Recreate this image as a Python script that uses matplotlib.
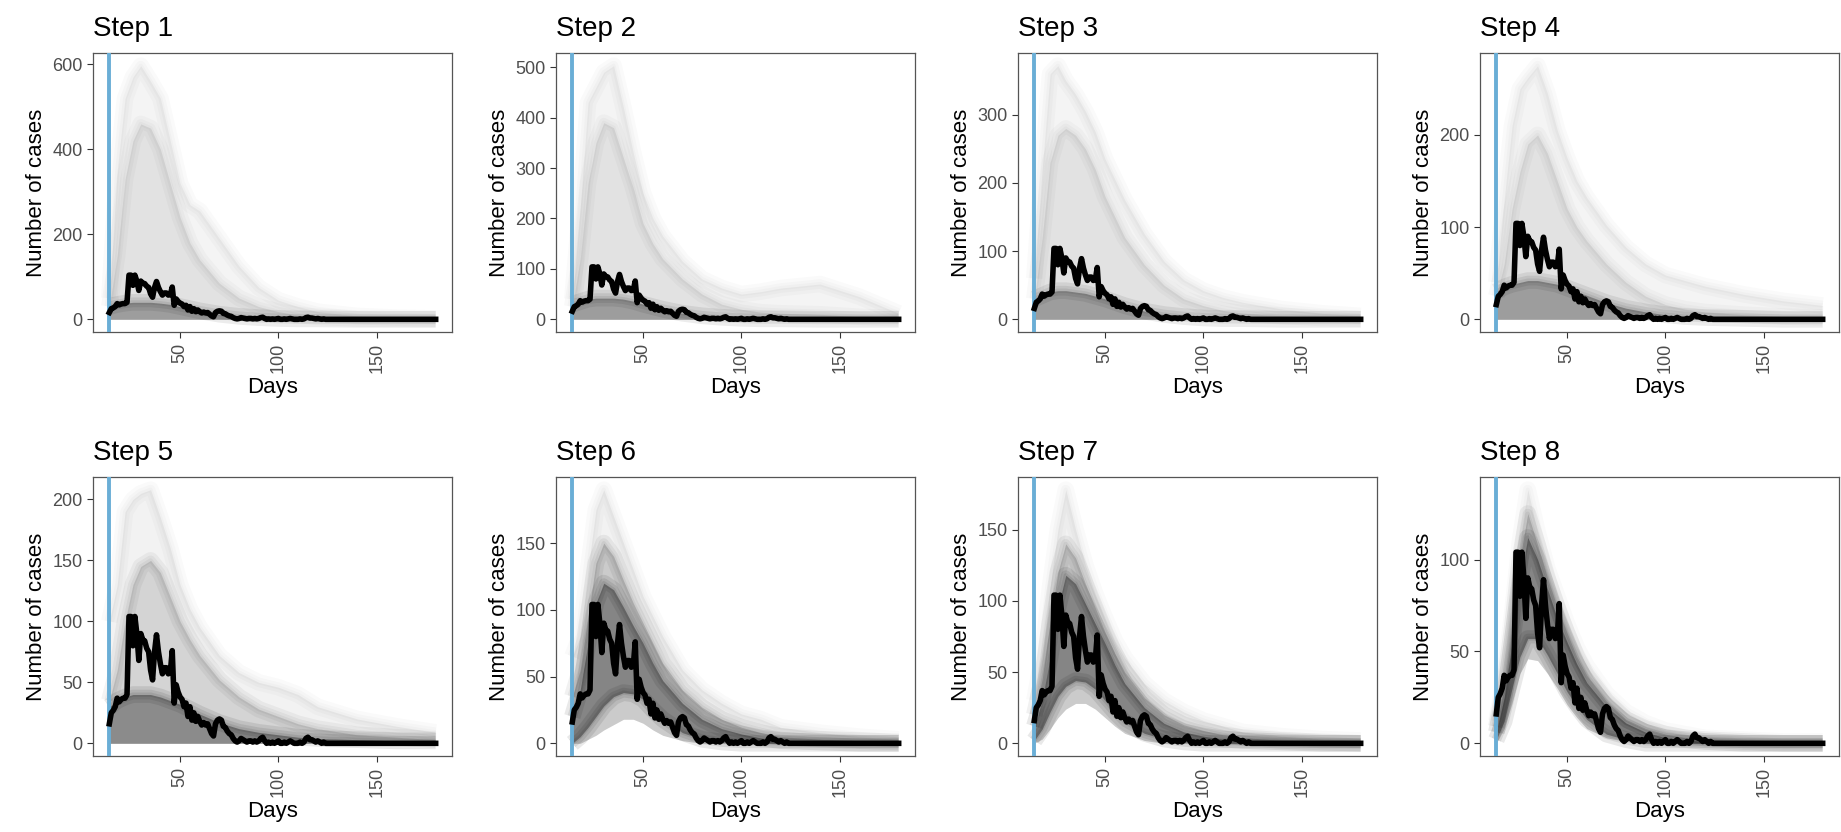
import matplotlib.pyplot as plt

plt.rcParams['font.family'] = ['Liberation Sans', 'DejaVu Sans']

# shared day grid for the envelope of the simulated runs
days_grid = [14, 18, 22, 26, 30, 35, 40, 45, 50, 55, 60, 70, 80, 90, 100, 110, 120, 140, 160, 180]
zeros_grid = [0] * len(days_grid)

# observed daily cases, day 14 .. 180
observed_days = list(range(14, 181))
observed = [16, 25, 27, 30, 37, 34, 36, 37, 37, 40,      # 14-23
            104, 104, 80, 104, 90, 68, 90, 85, 84, 78,   # 24-33
            75, 60, 52, 75, 89, 75, 65, 57, 62, 62,      # 34-43
            57, 58, 76, 33, 48, 42, 38, 36, 30, 33,      # 44-53
            22, 30, 19, 25, 18, 22, 18, 15, 17, 15,      # 54-63
            16, 12, 8, 6, 16, 19, 20, 19, 14, 13,        # 64-73
            10, 8, 7, 4, 2, 1, 2, 4, 3, 2,               # 74-83
            1, 2, 2, 1, 2, 1, 2, 4, 5, 2,                # 84-93
            0, 1, 0, 1, 0, 1, 2, 0, 0, 1,                # 94-103
            0, 1, 2, 1, 0, 0, 0, 1, 0, 1,                # 104-113
            4, 5, 3, 3, 2, 1, 2, 1, 0, 1,                # 114-123
            0] + [0] * 56                                # 124-180

# envelopes of the simulated runs per step (faint max, medium band, dense core)
step1_out = [50, 350, 520, 570, 597, 560, 520, 420, 320, 270, 255, 190, 125, 75, 45, 30, 18, 8, 4, 2]
step1_mid = [30, 150, 330, 420, 460, 450, 400, 320, 240, 180, 140, 85, 50, 30, 18, 10, 6, 2, 1, 0]
step1_core_hi = [30, 35, 38, 40, 40, 40, 38, 35, 30, 25, 20, 12, 7, 4, 2, 1, 1, 0, 0, 0]

step2_out = [40, 220, 430, 460, 490, 503, 420, 330, 250, 200, 165, 115, 80, 62, 50, 55, 62, 70, 45, 12]
step2_mid = [25, 120, 270, 350, 390, 380, 320, 260, 190, 150, 120, 80, 50, 30, 20, 14, 12, 10, 5, 2]
step2_core_hi = [30, 35, 40, 42, 42, 42, 40, 36, 30, 25, 20, 12, 7, 4, 2, 1, 1, 0, 0, 0]

step3_out = [60, 220, 360, 372, 350, 330, 305, 275, 235, 205, 175, 125, 85, 58, 42, 32, 25, 15, 9, 5]
step3_mid = [30, 120, 230, 270, 280, 270, 250, 220, 180, 150, 120, 80, 50, 30, 20, 13, 9, 5, 2, 1]
step3_core_hi = [30, 35, 40, 42, 42, 40, 38, 34, 30, 25, 20, 12, 7, 4, 2, 1, 1, 0, 0, 0]

step4_out = [40, 130, 210, 250, 262, 275, 245, 205, 175, 150, 132, 102, 78, 60, 48, 42, 36, 27, 20, 15]
step4_mid = [25, 60, 120, 160, 190, 200, 180, 150, 120, 100, 85, 60, 40, 25, 16, 11, 8, 5, 3, 2]
step4_core_hi = [30, 35, 38, 40, 42, 42, 40, 38, 34, 30, 26, 18, 12, 8, 5, 3, 2, 1, 0, 0]

step5_out = [100, 130, 190, 200, 205, 208, 185, 160, 130, 110, 95, 72, 58, 50, 46, 40, 30, 20, 14, 9]
step5_mid = [35, 60, 100, 130, 145, 150, 140, 120, 100, 85, 72, 52, 38, 28, 22, 16, 12, 7, 5, 3]
step5_core_hi = [30, 35, 38, 40, 40, 40, 38, 35, 32, 28, 24, 17, 12, 9, 7, 5, 4, 3, 2, 2]

step6_out = [65, 80, 130, 175, 190, 170, 150, 130, 110, 95, 80, 55, 40, 30, 22, 18, 12, 8, 5, 3]
step6_mid = [35, 55, 95, 135, 150, 140, 122, 105, 90, 75, 60, 40, 27, 18, 12, 8, 5, 3, 2, 1]
step6_core_hi = [20, 40, 75, 105, 120, 115, 102, 88, 75, 60, 47, 30, 18, 11, 7, 4, 2, 1, 0, 0]
step6_core_lo = [0, 5, 12, 20, 28, 35, 38, 37, 33, 25, 18, 8, 3, 1, 0, 0, 0, 0, 0, 0]
step6_floor = [0, 0, 3, 6, 10, 14, 18, 18, 15, 10, 6, 2, 0, 0, 0, 0, 0, 0, 0, 0]

step7_out = [30, 60, 110, 150, 178, 150, 125, 105, 88, 72, 60, 42, 30, 22, 16, 12, 8, 5, 3, 2]
step7_mid = [20, 45, 85, 120, 140, 130, 112, 95, 78, 63, 50, 32, 20, 13, 9, 6, 4, 2, 1, 0]
step7_core_hi = [12, 30, 60, 95, 118, 112, 98, 84, 70, 55, 42, 25, 14, 8, 5, 3, 2, 1, 0, 0]
step7_core_lo = [2, 10, 22, 33, 40, 44, 43, 38, 30, 22, 15, 7, 3, 1, 0, 0, 0, 0, 0, 0]
step7_floor = [0, 3, 10, 18, 24, 28, 28, 24, 18, 12, 7, 2, 0, 0, 0, 0, 0, 0, 0, 0]

step8_out = [12, 35, 70, 110, 138, 115, 95, 80, 65, 52, 42, 27, 17, 11, 7, 5, 3, 2, 1, 1]
step8_mid = [9, 30, 62, 100, 125, 108, 90, 74, 60, 47, 37, 23, 13, 8, 5, 3, 2, 1, 0, 0]
step8_core_hi = [6, 25, 55, 88, 112, 100, 84, 68, 55, 43, 33, 20, 11, 6, 3, 2, 1, 0, 0, 0]
step8_core_lo = [2, 12, 30, 47, 57, 57, 48, 38, 28, 20, 13, 5, 2, 0, 0, 0, 0, 0, 0, 0]
step8_floor = [0, 8, 22, 38, 46, 45, 38, 30, 21, 14, 8, 3, 1, 0, 0, 0, 0, 0, 0, 0]

step_titles = ["Step 1", "Step 2", "Step 3", "Step 4", "Step 5", "Step 6", "Step 7", "Step 8"]
step_yticks = [[0, 200, 400, 600], [0, 100, 200, 300, 400, 500], [0, 100, 200, 300], [0, 100, 200],
               [0, 50, 100, 150, 200], [0, 50, 100, 150], [0, 50, 100, 150], [0, 50, 100]]
x_ticks = [50, 100, 150]
start_day = 14

steps = [
    (step1_out, step1_mid, step1_core_hi, zeros_grid, zeros_grid),
    (step2_out, step2_mid, step2_core_hi, zeros_grid, zeros_grid),
    (step3_out, step3_mid, step3_core_hi, zeros_grid, zeros_grid),
    (step4_out, step4_mid, step4_core_hi, zeros_grid, zeros_grid),
    (step5_out, step5_mid, step5_core_hi, zeros_grid, zeros_grid),
    (step6_out, step6_mid, step6_core_hi, step6_core_lo, step6_floor),
    (step7_out, step7_mid, step7_core_hi, step7_core_lo, step7_floor),
    (step8_out, step8_mid, step8_core_hi, step8_core_lo, step8_floor),
]
layer_alpha = [(0.045, 0.07, 0.30)] * 4 + [(0.05, 0.12, 0.34)] + [(0.05, 0.16, 0.34)] * 3


def soft_edge(ax, y, alpha):
    # blurred border: a few wide, very faint strokes along an envelope
    for lw in (3, 7, 12):
        ax.plot(days_grid, y, color="black", alpha=alpha, lw=lw, solid_capstyle="butt")


W, H = 1841, 832
fig = plt.figure(figsize=(W / 100, H / 100), dpi=100)

col_left = [93, 556, 1018, 1480]
row_top = [53, 477]
ax_w, ax_h = 359, 279

x_lo = start_day - 0.05 * (180 - start_day)
x_hi = 180 + 0.05 * (180 - start_day)

for i, (out, mid, core_hi, core_lo, floor) in enumerate(steps):
    r, c = divmod(i, 4)
    left = col_left[c] / W
    bottom = 1 - (row_top[r] + ax_h) / H
    ax = fig.add_axes([left, bottom, ax_w / W, ax_h / H])

    a_out, a_mid, a_core = layer_alpha[i]
    ax.fill_between(days_grid, floor, out, color="black", alpha=a_out, lw=0)
    ax.fill_between(days_grid, floor, mid, color="black", alpha=a_mid, lw=0)
    ax.fill_between(days_grid, core_lo, core_hi, color="black", alpha=a_core, lw=0)
    soft_edge(ax, out, a_out * 0.4)
    soft_edge(ax, mid, a_mid * 0.35)
    soft_edge(ax, core_hi, a_core * 0.25)
    if i >= 5:
        soft_edge(ax, core_lo, a_core * 0.25)

    ax.axvline(start_day, color="#6aaed6", lw=2.8, zorder=3)
    ax.plot(observed_days, observed, color="black", lw=4, solid_joinstyle="round", zorder=4)

    ymax = max(out)
    ax.set_ylim(-0.05 * ymax, 1.05 * ymax)
    ax.set_xlim(x_lo, x_hi)
    ax.set_xticks(x_ticks)
    ax.set_yticks(step_yticks[i])
    ax.tick_params(axis="x", labelrotation=90)
    ax.tick_params(colors="#333333", labelcolor="#4d4d4d", labelsize=13, length=4, width=0.8)
    for s in ax.spines.values():
        s.set_color("#555555")
        s.set_linewidth(0.9)

    ax.set_title(step_titles[i], loc="left", fontsize=20, pad=12)
    ax.set_xlabel("Days", fontsize=16, labelpad=3)
    ax.set_ylabel("Number of cases", fontsize=16, labelpad=4)

fig.savefig("out.png", dpi=100)
